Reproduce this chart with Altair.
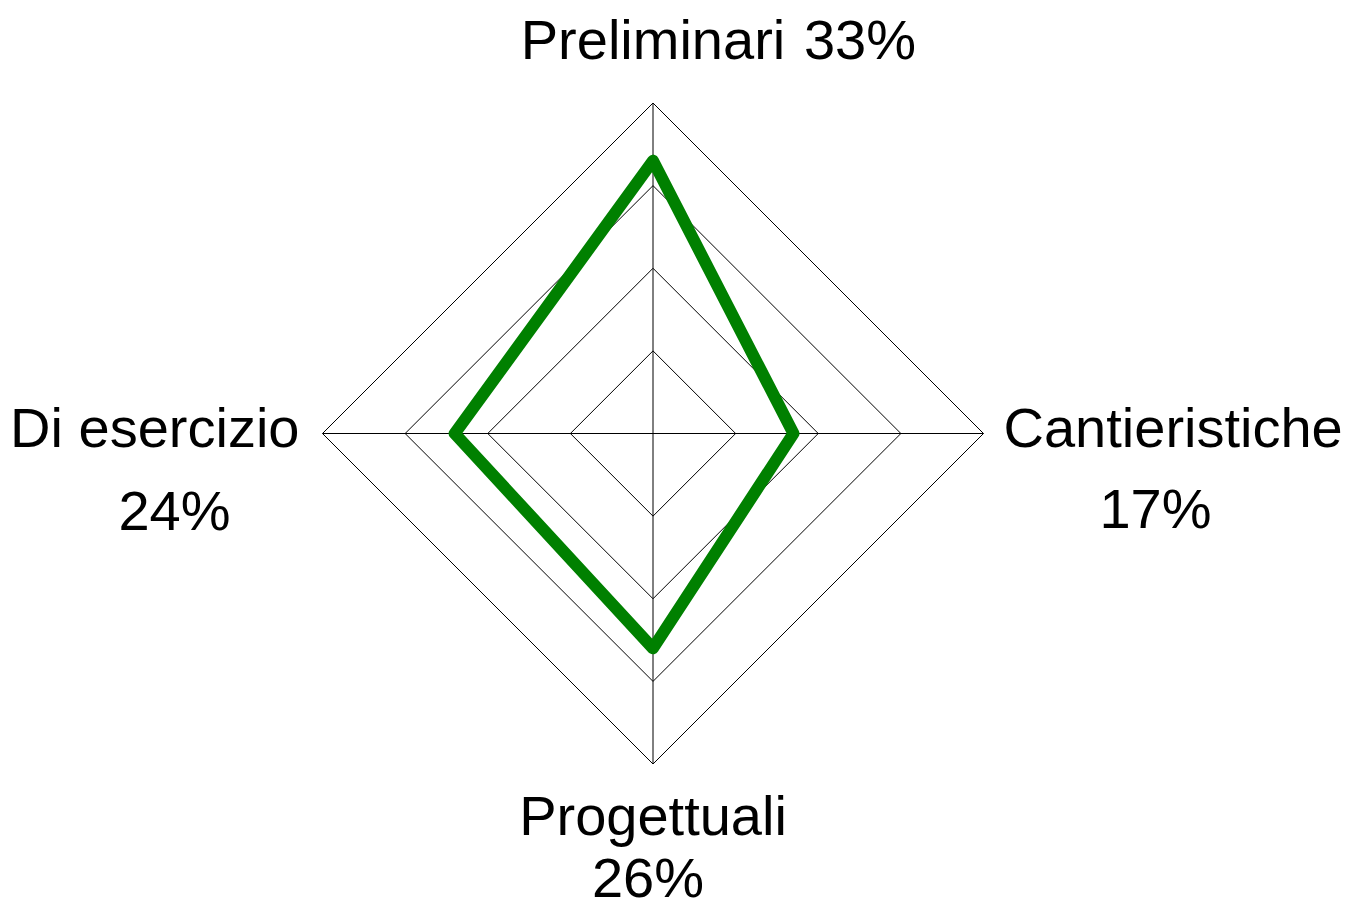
import altair as alt
import pandas as pd

# ---- data ----
categories = ["Preliminari", "Cantieristiche", "Progettuali", "Di esercizio"]
values = [33, 17, 26, 24]          # percent
grid_levels = [10, 20, 30, 40]
axis_max = 40

n = len(categories)

# ---- layout (pixels) ----
W, H = 1334, 900
CX, CY = 645, 425.5
R_PX = 330.5
k = R_PX / axis_max
xs = alt.Scale(domain=[-CX / k, (W - CX) / k], nice=False, zero=False)
ys = alt.Scale(domain=[-(H - CY) / k, CY / k], nice=False, zero=False)

ANG = f"datum.idx * 2 * PI / {n}"
FONT = "Liberation Sans"
FS = 56


def xy(chart, rfield):
    return chart.transform_calculate(
        x=f"datum.{rfield} * sin({ANG})",
        y=f"datum.{rfield} * cos({ANG})",
    )


# grid diamonds
grid_df = pd.DataFrame(
    [{"level": L, "idx": i, "ord": i} for L in grid_levels for i in range(n + 1)]
)
grid = xy(alt.Chart(grid_df), "level").mark_line(
    color="black", strokeWidth=1
).encode(
    x=alt.X("x:Q", scale=xs, axis=None),
    y=alt.Y("y:Q", scale=ys, axis=None),
    detail="level:N",
    order="ord:Q",
)

# spokes
spoke_df = pd.DataFrame({"idx": list(range(n)), "r": [axis_max] * n})
spokes = xy(alt.Chart(spoke_df), "r").transform_calculate(
    x0="0", y0="0"
).mark_rule(color="black", strokeWidth=1).encode(
    x=alt.X("x0:Q", scale=xs, axis=None),
    y=alt.Y("y0:Q", scale=ys, axis=None),
    x2="x:Q",
    y2="y:Q",
)

# data polygon
poly_df = pd.DataFrame(
    {"idx": list(range(n + 1)), "val": [values[i % n] for i in range(n + 1)]}
)
poly = xy(alt.Chart(poly_df), "val").mark_line(
    color="#008000", strokeWidth=12, strokeJoin="round", strokeCap="round"
).encode(
    x=alt.X("x:Q", scale=xs, axis=None),
    y=alt.Y("y:Q", scale=ys, axis=None),
    order="idx:Q",
)

# labels
label_df = pd.DataFrame(
    {"idx": list(range(n)), "cat": categories, "val": values, "r": [axis_max] * n}
)
label_specs = [
    (0, "datum.cat", "center", 0, -44),
    (0, "datum.pct", "center", 207, -44),
    (1, "datum.cat", "left", 20, 13),
    (1, "datum.pct", "center", 172, 94),
    (2, "datum.cat", "center", 0, 71),
    (2, "datum.pct", "center", -5, 133),
    (3, "datum.cat", "right", -23, 13),
    (3, "datum.pct", "center", -148, 96),
]
label_layers = []
for idx, expr, align, dx, dy in label_specs:
    lay = xy(
        alt.Chart(label_df)
        .transform_filter(f"datum.idx == {idx}")
        .transform_calculate(pct="format(datum.val, 'd') + '%'")
        .transform_calculate(txt=expr),
        "r",
    ).mark_text(
        align=align, baseline="alphabetic", dx=dx, dy=dy,
        font=FONT, fontSize=FS, color="black",
    ).encode(
        x=alt.X("x:Q", scale=xs, axis=None),
        y=alt.Y("y:Q", scale=ys, axis=None),
        text="txt:N",
    )
    label_layers.append(lay)

chart = alt.layer(grid, spokes, poly, *label_layers).properties(
    width=W, height=H, padding=0, background="white",
    autosize=alt.AutoSizeParams(type="none"),
).configure_view(stroke=None)

chart.save("out.html", embed_options={"renderer": "svg", "actions": False})
